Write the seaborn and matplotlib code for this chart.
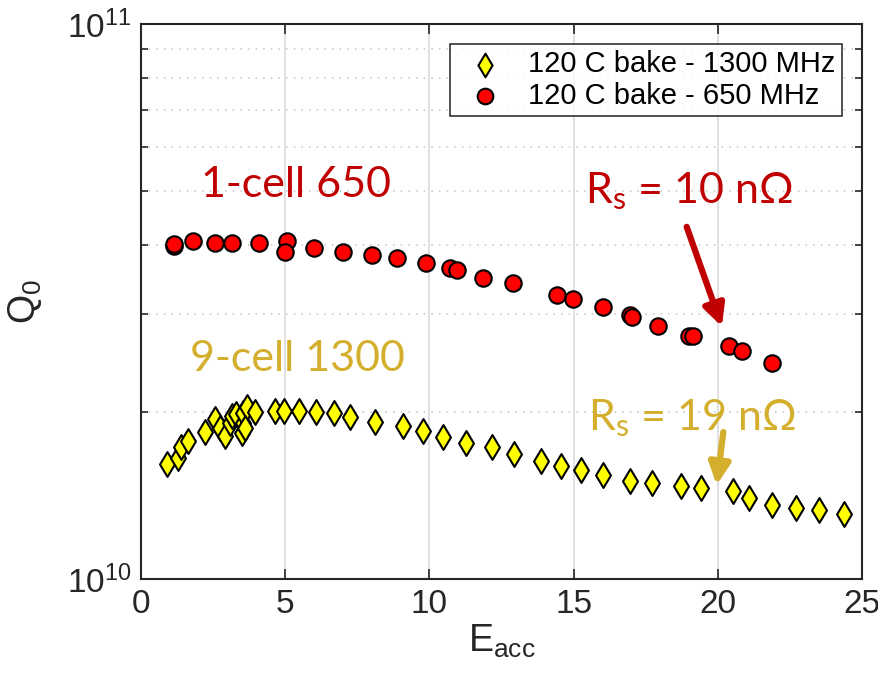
import numpy as np
import pandas as pd
import matplotlib
matplotlib.use("Agg")
import matplotlib.pyplot as plt
from matplotlib.ticker import LogLocator, NullFormatter, MultipleLocator
import seaborn as sns

# 650 MHz single cell (red circles)
e_650 = [1.15, 1.15, 1.79, 2.57, 3.14, 4.08, 5.07, 5.0, 6.01, 6.99, 8.0, 8.87,
         9.87, 10.71, 10.95, 11.87, 12.91, 14.44, 14.97, 16.01, 16.96, 17.01,
         17.94, 19.01, 19.13, 20.4, 20.83, 21.87]
q_650 = [3.98e10, 4.01e10, 4.06e10, 4.03e10, 4.03e10, 4.03e10, 4.06e10, 3.89e10,
         3.94e10, 3.89e10, 3.84e10, 3.78e10, 3.71e10, 3.63e10, 3.60e10, 3.48e10,
         3.41e10, 3.25e10, 3.20e10, 3.09e10, 2.99e10, 2.96e10, 2.86e10, 2.74e10,
         2.74e10, 2.63e10, 2.58e10, 2.45e10]

# 1300 MHz nine cell (yellow diamonds)
e_1300 = [0.91, 1.27, 1.39, 1.64, 2.22, 2.57, 2.74, 2.91, 3.09, 3.14, 3.29, 3.49,
          3.55, 3.53, 3.66, 3.62, 3.95, 4.65, 4.96, 5.48, 6.07, 6.7, 7.25, 8.11,
          9.1, 9.79, 10.46, 11.27, 12.16, 12.93, 13.86, 14.56, 15.26, 16.01,
          16.96, 17.73, 18.72, 19.42, 20.52, 21.09, 21.87, 22.7, 23.51, 24.39]
q_1300 = [1.61e10, 1.65e10, 1.73e10, 1.77e10, 1.84e10, 1.94e10, 1.87e10, 1.81e10,
          1.91e10, 1.97e10, 1.98e10, 1.83e10, 1.91e10, 1.99e10, 2.04e10, 1.87e10,
          2.0e10, 2.01e10, 2.01e10, 2.01e10, 2.0e10, 1.99e10, 1.96e10, 1.92e10,
          1.89e10, 1.85e10, 1.80e10, 1.76e10, 1.73e10, 1.68e10, 1.63e10, 1.60e10,
          1.57e10, 1.54e10, 1.50e10, 1.49e10, 1.47e10, 1.46e10, 1.44e10, 1.40e10,
          1.36e10, 1.34e10, 1.33e10, 1.31e10]

labels = ["120 C bake - 1300 MHz", "120 C bake - 650 MHz"]

red_txt = "#C00000"
gold_txt = "#D4AF2E"

sns.set_style("ticks")
plt.rcParams["font.family"] = ["Liberation Sans", "DejaVu Sans"]
plt.rcParams["mathtext.fontset"] = "custom"
plt.rcParams["mathtext.rm"] = "Lato"
plt.rcParams["mathtext.it"] = "Lato"

df_1300 = pd.DataFrame({"Eacc": e_1300, "Q0": q_1300})
df_650 = pd.DataFrame({"Eacc": e_650, "Q0": q_650})

fig = plt.figure(figsize=(8.79, 6.79), dpi=100)
ax = fig.add_axes([0.1604, 0.1473, 0.8203, 0.8174])

sns.scatterplot(data=df_1300, x="Eacc", y="Q0", marker="d", s=160, color="#FFFF00",
                edgecolor="black", linewidth=1.5, label=labels[0], ax=ax, zorder=3)
sns.scatterplot(data=df_650, x="Eacc", y="Q0", marker="o", s=140, color="#FF0000",
                edgecolor="black", linewidth=1.5, label=labels[1], ax=ax, zorder=3)

ax.set_yscale("log")
ax.set_xlim(0, 25)
ax.set_ylim(1e10, 1e11)
ax.xaxis.set_major_locator(MultipleLocator(5))
ax.yaxis.set_major_locator(LogLocator(base=10, numticks=5))
ax.yaxis.set_minor_locator(LogLocator(base=10, subs=np.arange(2, 10), numticks=12))
ax.yaxis.set_minor_formatter(NullFormatter())

ax.grid(True, which="major", axis="x", color="#DCDCDC", lw=1.2, ls="-")
ax.grid(True, which="minor", axis="y", color="#C4C4C4", lw=1.1, ls=(0, (1, 4)))
ax.set_axisbelow(True)

ax.tick_params(which="both", direction="in", top=True, right=True, width=1.2,
               colors="#262626", labelsize=24, pad=7)
ax.tick_params(which="major", length=7)
ax.tick_params(which="minor", length=5)
for sp in ax.spines.values():
    sp.set_linewidth(1.5)
    sp.set_color("#262626")

ax.set_xlabel("E$_{\\mathdefault{acc}}$", fontsize=27, labelpad=2, color="#262626")
ax.set_ylabel("Q$_{\\mathdefault{0}}$", fontsize=27, labelpad=16, color="#262626")

leg = ax.legend(loc="upper right", fontsize=21, frameon=True, fancybox=False,
                borderaxespad=0.7, handletextpad=0.5, borderpad=0.2,
                labelspacing=0.12, markerscale=0.95)
leg.get_frame().set_edgecolor("black")
leg.get_frame().set_linewidth(1.2)
for t in leg.get_texts():
    t.set_color("black")

ax.text(2.07, 4.885e10, "1-cell 650", color=red_txt, fontsize=31, family="Lato",
        va="baseline")
ax.text(1.70, 2.37e10, "9-cell 1300", color=gold_txt, fontsize=31, family="Lato",
        va="baseline")
ax.text(15.4, 4.76e10, "R$_\\mathrm{s}$ = 10 n\u03a9", color=red_txt, fontsize=31,
        family="Lato", va="baseline")
ax.text(15.5, 1.855e10, "R$_\\mathrm{s}$ = 19 n\u03a9", color=gold_txt, fontsize=31,
        family="Lato", va="baseline")

ax.annotate("", xy=(20.14, 2.85e10), xytext=(18.92, 4.31e10),
            arrowprops=dict(arrowstyle="-|>", color=red_txt, lw=4.5, mutation_scale=32,
                            shrinkA=0, shrinkB=0))
ax.annotate("", xy=(19.96, 1.477e10), xytext=(20.19, 1.84e10),
            arrowprops=dict(arrowstyle="-|>", color=gold_txt, lw=4.5, mutation_scale=32,
                            shrinkA=0, shrinkB=0))

fig.savefig("out.png", dpi=100)
